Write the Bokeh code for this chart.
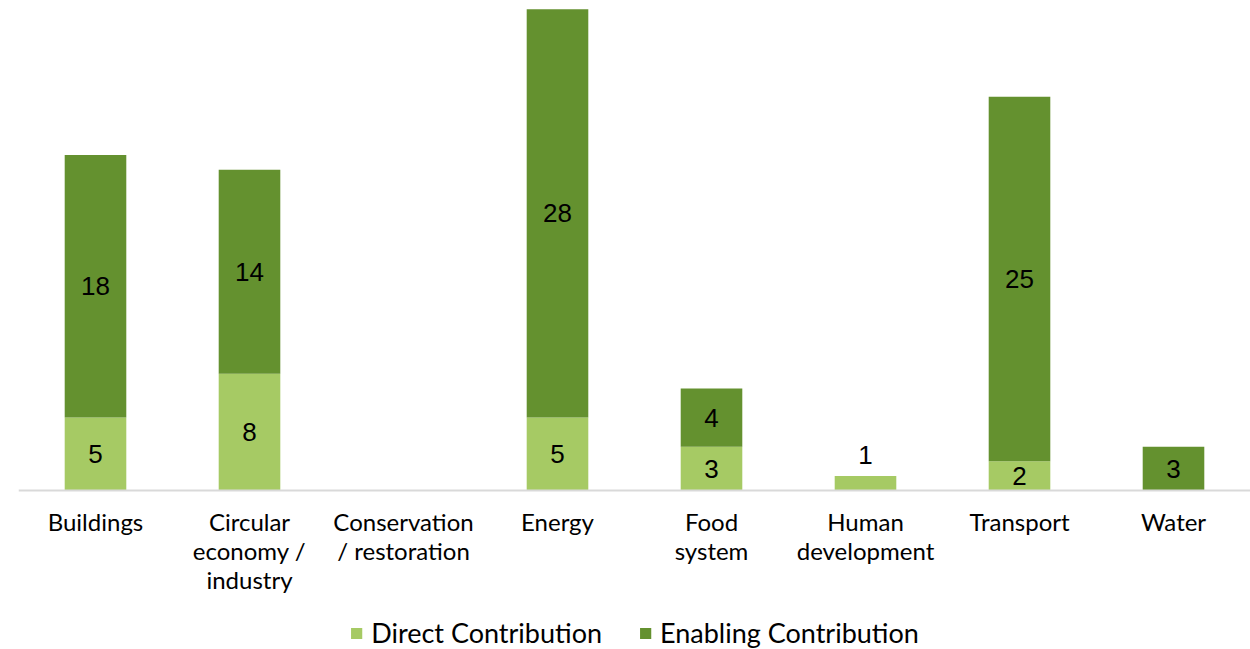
from bokeh.plotting import figure
from bokeh.models import ColumnDataSource, Legend, LegendItem, LabelSet, FactorRange
from bokeh.embed import file_html
from bokeh.resources import INLINE
from bokeh.core.properties import value

categories = ["Buildings", "Circular\neconomy /\nindustry", "Conservation\n/ restoration",
              "Energy", "Food\nsystem", "Human\ndevelopment", "Transport", "Water"]
direct = [5, 8, 0, 5, 3, 1, 2, 0]
enabling = [18, 14, 0, 28, 4, 0, 25, 3]
series = ["Direct Contribution", "Enabling Contribution"]
colors = ["#A6CA64", "#64912F"]

src = ColumnDataSource(dict(cat=categories, direct=direct, enabling=enabling))

p = figure(x_range=FactorRange(*categories), y_range=(-10.9, 33.05),
           width=1250, height=649,
           output_backend="svg", toolbar_location=None,
           min_border_left=18, min_border_right=0, min_border_top=8, min_border_bottom=0)

r = p.vbar_stack(["direct", "enabling"], x="cat", width=0.4, color=colors, source=src,
                 line_color=None)

# label positions
lab_x, lab_y, lab_t, lab_off, lab_base = [], [], [], [], []
for c, d, e in zip(categories, direct, enabling):
    if d > 0:
        lab_x.append(c); lab_t.append(str(d))
        if d < 2:
            lab_y.append(d); lab_off.append(12); lab_base.append("bottom")
        else:
            lab_y.append(d / 2); lab_off.append(0); lab_base.append("middle")
    if e > 0:
        lab_x.append(c); lab_t.append(str(e))
        lab_y.append(d + e / 2); lab_off.append(0); lab_base.append("middle")
lsrc = ColumnDataSource(dict(x=lab_x, y=lab_y, t=lab_t, off=lab_off, base=lab_base))
labels_mid = LabelSet(x="x", y="y", text="t", source=lsrc, y_offset="off",
                      text_align="center", text_baseline="base",
                      text_font=value("Liberation Sans"), text_font_size="26px",
                      text_color="#000000")
p.add_layout(labels_mid)

p.grid.visible = False
p.yaxis.visible = False
p.outline_line_color = None
p.xaxis.fixed_location = 0
p.xaxis.axis_line_color = "#D9D9D9"
p.xaxis.axis_line_width = 2
p.xaxis.major_tick_line_color = None
p.xaxis.minor_tick_line_color = None
p.xaxis.major_label_text_font = "Lato"
p.xaxis.major_label_text_font_size = "24px"
p.xaxis.major_label_text_line_height = 1.0
p.xaxis.major_label_text_color = "#000000"
p.xaxis.major_label_standoff = 10
p.x_range.range_padding = 0
p.x_range.group_padding = 0

legend = Legend(items=[LegendItem(label=s, renderers=[rr]) for s, rr in zip(series, r)],
                orientation="horizontal", location="bottom_center",
                label_text_font="Lato", label_text_font_size="27px", label_text_color="#000000",
                glyph_width=14, glyph_height=14, spacing=36, label_standoff=8,
                border_line_color=None, background_fill_alpha=0, margin=0, padding=2)
p.add_layout(legend)

open("out.html", "w").write(file_html(p, INLINE))
